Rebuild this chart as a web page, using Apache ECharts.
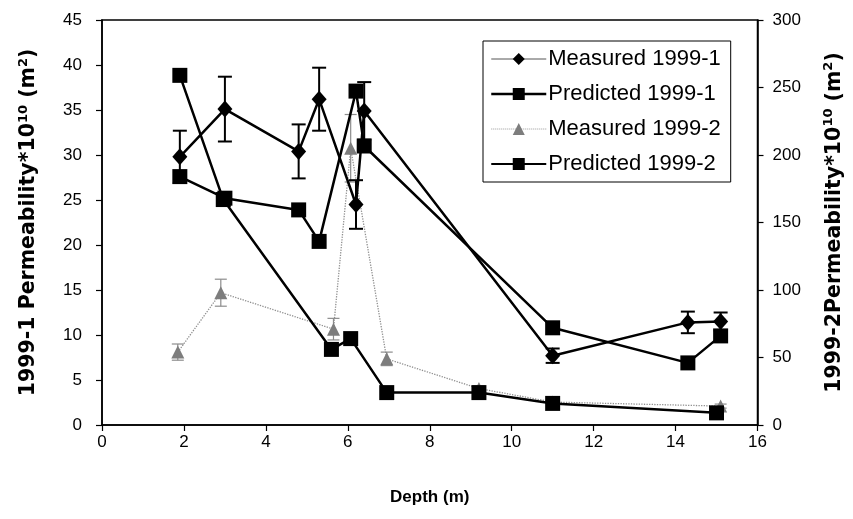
<!DOCTYPE html>
<html>
<head>
<meta charset="utf-8">
<script src="https://cdn.jsdelivr.net/npm/echarts@6/dist/echarts.min.js"></script>
<style>html,body{margin:0;padding:0;background:#fff;}#c{width:853px;height:519px;}</style>
</head>
<body>
<div id="c"></div>
<script>
// ---- data ----
const depth1 = [1.9, 3.0, 4.8, 5.3, 6.2, 6.4, 11.0, 14.3, 15.1];
const measured1 = [29.8, 35.1, 30.4, 36.2, 24.5, 34.9, 7.7, 11.4, 11.5];
const measured1Err = [2.9, 3.6, 3.0, 3.5, 2.7, 3.2, 0.8, 1.2, 1.0];
const predicted1 = [27.6, 25.2, 23.9, 20.4, 37.1, 31.0, 10.8, 6.9, 9.9];

const depthM2 = [1.85, 2.9, 5.65, 6.07, 6.95, 9.2, 11.0, 15.1];
const measured2 = [54, 98, 71, 205, 49, 27, 17, 14];
const measured2Err = [6, 10, 8, 25, 5, 2, 1.5, 1.5];

const depthP2 = [1.9, 2.96, 5.6, 6.07, 6.95, 9.2, 11.0, 15.0];
const predicted2 = [259, 167, 56, 64, 24, 24, 16, 9];

const xTicks = [0, 2, 4, 6, 8, 10, 12, 14, 16];
const leftTicks = [0, 5, 10, 15, 20, 25, 30, 35, 40, 45];
const rightTicks = [0, 50, 100, 150, 200, 250, 300];

const seriesNames = ['Measured 1999-1', 'Predicted 1999-1', 'Measured 1999-2', 'Predicted 1999-2'];

// ---- build ----
const FF = '"Liberation Sans", Arial, sans-serif';
const FT = '"DejaVu Sans", "Liberation Sans", sans-serif';
const pairs = (xs, ys) => xs.map((x, i) => [x, ys[i]]);
const errData = (xs, ys, es) => xs.map((x, i) => [x, ys[i] - es[i], ys[i] + es[i]]);

function errRender(color, width, cap) {
  return function (params, api) {
    const x = api.value(0);
    const lo = api.coord([x, api.value(1)]);
    const hi = api.coord([x, api.value(2)]);
    const st = { stroke: color, lineWidth: width };
    return {
      type: 'group',
      children: [
        { type: 'line', shape: { x1: lo[0], y1: lo[1], x2: hi[0], y2: hi[1] }, style: st },
        { type: 'line', shape: { x1: lo[0] - cap, y1: lo[1], x2: lo[0] + cap, y2: lo[1] }, style: st },
        { type: 'line', shape: { x1: hi[0] - cap, y1: hi[1], x2: hi[0] + cap, y2: hi[1] }, style: st }
      ]
    };
  };
}

const nameRich = {
  a: { fontSize: 20.5, fontWeight: 'bold', fontFamily: FT, color: '#000' },
  s: { fontSize: 13, fontWeight: 'bold', fontFamily: FT, color: '#000', padding: [0, 0, 11, 0] }
};

const chart = echarts.init(document.getElementById('c'), null, { renderer: 'canvas' });
chart.setOption({
  animation: false,
  backgroundColor: '#fff',
  grid: { left: 102, right: 93, top: 20, bottom: 94, show: true, borderColor: '#000', borderWidth: 1.5 },
  legend: {
    orient: 'vertical',
    left: 483, top: 41,
    padding: [7, 10, 7, 7],
    backgroundColor: '#fff',
    borderColor: '#000', borderWidth: 1,
    itemWidth: 55, itemHeight: 15, itemGap: 13,
    textStyle: { fontSize: 22, lineHeight: 22, fontFamily: FF, color: '#000', padding: [0, 0, 0, -3] },
    data: [
      { name: seriesNames[0], lineStyle: { width: 1, color: '#555' } },
      { name: seriesNames[1], lineStyle: { width: 2.5 } },
      { name: seriesNames[2], lineStyle: { width: 1, color: '#999' } },
      { name: seriesNames[3], lineStyle: { width: 2 } }
    ]
  },
  xAxis: {
    type: 'value', min: 0, max: 16, interval: 2,
    name: 'Depth (m)', nameLocation: 'middle', nameGap: 64,
    nameTextStyle: { fontSize: 17, fontWeight: 'bold', fontFamily: FF, color: '#000' },
    axisLine: { lineStyle: { color: '#000', width: 1.5 } },
    axisTick: { show: true, length: 6, lineStyle: { color: '#000', width: 1.2 } },
    axisLabel: { fontSize: 17, fontFamily: FF, color: '#000', margin: 9,
      formatter: v => xTicks.includes(v) ? String(v) : '' },
    splitLine: { show: false }
  },
  yAxis: [
    {
      type: 'value', min: 0, max: 45, interval: 5, position: 'left',
      name: '{a|1999-1 Permeability*10}{s|10}{a| (m}{s|2}{a|)}',
      nameLocation: 'middle', nameGap: 61, nameRotate: 90,
      nameTextStyle: { rich: nameRich },
      axisLine: { show: true, lineStyle: { color: '#000', width: 1.5 } },
      axisTick: { show: true, length: 6, lineStyle: { color: '#000', width: 1.2 } },
      axisLabel: { fontSize: 17, fontFamily: FF, color: '#000', margin: 20,
        formatter: v => leftTicks.includes(v) ? String(v) : '' },
      splitLine: { show: false }
    },
    {
      type: 'value', min: 0, max: 300, interval: 50, position: 'right',
      name: '{a|1999-2Permeability*10}{s|10}{a| (m}{s|2}{a|)}',
      nameLocation: 'middle', nameGap: 65, nameRotate: 90,
      nameTextStyle: { rich: nameRich },
      axisLine: { show: true, lineStyle: { color: '#000', width: 1.5 } },
      axisTick: { show: true, length: 6, lineStyle: { color: '#000', width: 1.2 } },
      axisLabel: { fontSize: 17, fontFamily: FF, color: '#000', margin: 15,
        formatter: v => rightTicks.includes(v) ? String(v) : '' },
      splitLine: { show: false }
    }
  ],
  series: [
    {
      type: 'custom', name: 'err2', yAxisIndex: 1, z: 1,
      renderItem: errRender('#8c8c8c', 1.2, 6),
      encode: { x: 0, y: [1, 2] },
      data: errData(depthM2, measured2, measured2Err)
    },
    {
      name: seriesNames[2], type: 'line', yAxisIndex: 1, z: 2,
      data: pairs(depthM2, measured2),
      symbol: 'triangle', symbolSize: 13,
      itemStyle: { color: '#7d7d7d' },
      lineStyle: { color: '#8f8f8f', width: 1.3, type: 'dotted' }
    },
    {
      name: seriesNames[3], type: 'line', yAxisIndex: 1, z: 3,
      data: pairs(depthP2, predicted2),
      symbol: 'rect', symbolSize: 15,
      itemStyle: { color: '#000' },
      lineStyle: { color: '#000', width: 2.5 }
    },
    {
      type: 'custom', name: 'err1', yAxisIndex: 0, z: 4,
      renderItem: errRender('#000', 2, 7),
      encode: { x: 0, y: [1, 2] },
      data: errData(depth1, measured1, measured1Err)
    },
    {
      name: seriesNames[1], type: 'line', yAxisIndex: 0, z: 5,
      data: pairs(depth1, predicted1),
      symbol: 'rect', symbolSize: 15,
      itemStyle: { color: '#000' },
      lineStyle: { color: '#000', width: 2.5 }
    },
    {
      name: seriesNames[0], type: 'line', yAxisIndex: 0, z: 6,
      data: pairs(depth1, measured1),
      symbol: 'diamond', symbolSize: [15, 17],
      itemStyle: { color: '#000' },
      lineStyle: { color: '#000', width: 2.5 }
    }
  ]
});
</script>
</body>
</html>
